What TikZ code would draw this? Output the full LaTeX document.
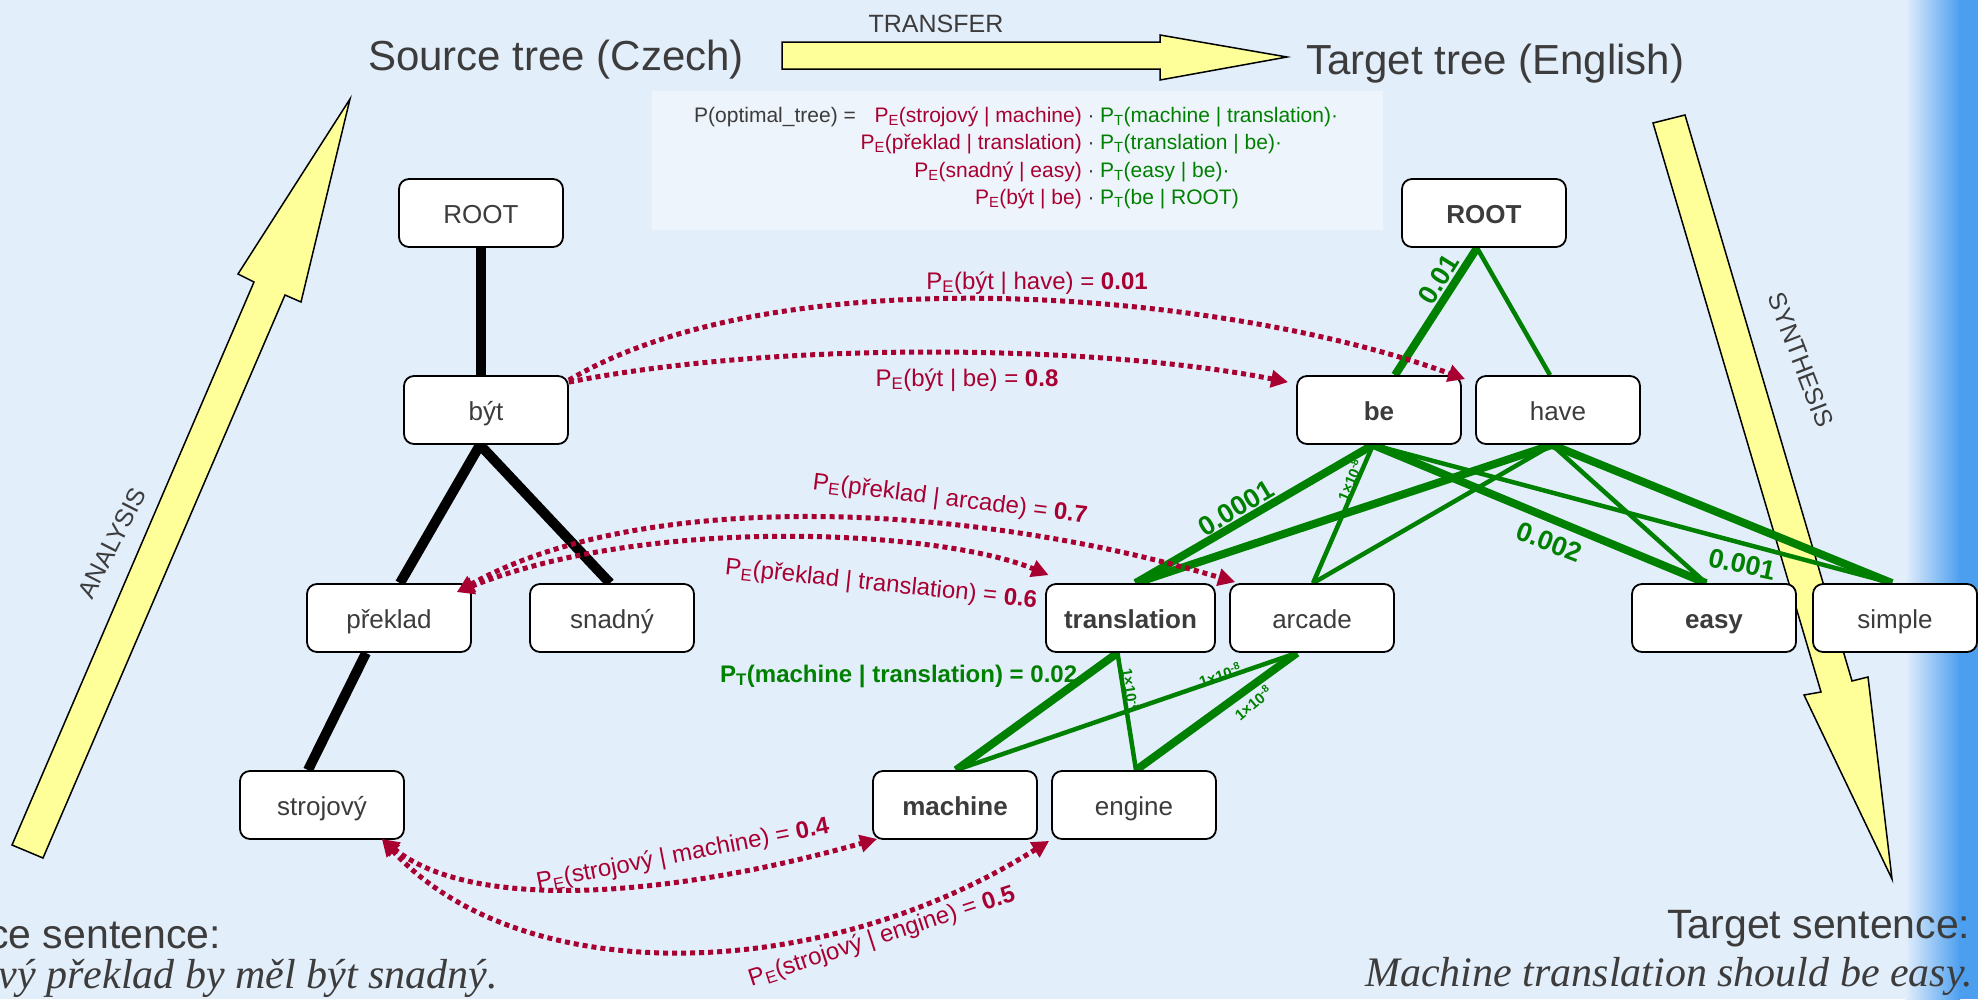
\documentclass[tikz,border=0pt]{standalone}
\usepackage{fontspec}
\setmainfont{Liberation Sans}
\newfontfamily\serifit{Liberation Serif}
\usetikzlibrary{arrows.meta,calc}
\pgfdeclarelayer{back}
\pgfsetlayers{back,main}
\definecolor{bg}{HTML}{E3EEFB}
\definecolor{edgeblue}{HTML}{4C9FEF}
\definecolor{arrowyellow}{HTML}{FFFF99}
\definecolor{pred}{HTML}{A80030}
\definecolor{pgreen}{HTML}{008000}
\definecolor{txtgray}{HTML}{3C3C3C}
\definecolor{formulabg}{HTML}{EEF4FC}
\newcommand\fs[1]{\fontsize{#1}{#1}\selectfont}
\newcommand\PE{P\textsubscript{E}}
\newcommand\PT{P\textsubscript{T}}
\begin{document}
\begin{tikzpicture}[x=1pt,y=-1pt,
  >={Triangle[length=17pt,width=17pt]},
  wordbox/.style={draw=black, line width=1.8pt, fill=white, rounded corners=10pt,
    minimum width=164pt, minimum height=68pt, inner sep=0pt, text=txtgray, font=\fs{26},
    text height=26pt, text depth=6pt},
  srcedge/.style={line width=10pt, black},
  gthick/.style={line width=8pt, pgreen},
  gthin/.style={line width=4.5pt, pgreen},
  probarrow/.style={pred, line width=5pt, dash pattern=on 5pt off 4pt},
  redlab/.style={text=pred, font=\fs{24}, inner sep=0pt},
  greenlab/.style={text=pgreen, font=\fs{27}\bfseries, inner sep=0pt},
  smallgreen/.style={text=pgreen, font=\fs{15}\bfseries, inner sep=0pt},
  bigarrow/.style={fill=arrowyellow, draw=black, line width=1.5pt, line join=miter},
  titletext/.style={text=txtgray, font=\fs{42}, inner sep=0pt},
  formtext/.style={font=\fs{21}, inner sep=0pt},
  arrowword/.style={text=txtgray, font=\fs{25}, inner sep=0pt}
]
\useasboundingbox (0,0) rectangle (1978,999);
\clip (0,0) rectangle (1978,999);

% ---------- nodes ----------
\node[wordbox] (sroot) at (481,213) {ROOT};
\node[wordbox] (byt) at (486,410) {být};
\node[wordbox] (preklad) at (389,618) {překlad};
\node[wordbox] (snadny) at (612,618) {snadný};
\node[wordbox] (strojovy) at (322,805) {strojový};

\node[wordbox] (troot) at (1484,213) {\bfseries ROOT};
\node[wordbox] (be) at (1379,410) {\bfseries be};
\node[wordbox] (have) at (1558,410) {have};
\node[wordbox, minimum width=169pt] (translation) at (1130.5,618) {\bfseries translation};
\node[wordbox] (arcade) at (1312,618) {arcade};
\node[wordbox] (easy) at (1714,618) {\bfseries easy};
\node[wordbox] (simple) at (1895,618) {simple};
\node[wordbox] (machine) at (955,805) {\bfseries machine};
\node[wordbox] (engine) at (1134,805) {engine};

% ---------- background layer ----------
\begin{pgfonlayer}{back}
  \fill[bg] (0,0) rectangle (1978,999);
  \shade[left color=bg, right color=edgeblue] (1905,0) rectangle (1960,999);
  \fill[edgeblue] (1959,0) rectangle (1978,999);
  \fill[formulabg] (652,91) rectangle (1383,230);
  % yellow arrows
  \draw[bigarrow] (12,845) -- (254,282) -- (238,274) -- (350,99) -- (301,302) -- (285,295) -- (43,858) -- cycle;
  \draw[bigarrow] (1653,123) -- (1685,115) -- (1852,681) -- (1868,677) -- (1892,879) -- (1804,695) -- (1821,692) -- cycle;
  \draw[bigarrow] (782,42) -- (1160,42) -- (1160,35) -- (1287,57) -- (1160,80) -- (1160,69) -- (782,69) -- cycle;
  % source tree edges
  \draw[srcedge] (sroot.south) -- (sroot.south |- byt.north);
  \draw[srcedge] ($(byt.south)+(-6,0)$) -- ($(preklad.north)+(11,0)$);
  \draw[srcedge] ($(byt.south)+(-6,0)$) -- ($(snadny.north)+(-2,0)$);
  \draw[srcedge] ($(preklad.south)+(-23,0)$) -- ($(strojovy.north)+(-14,0)$);
  % target tree edges
  \coordinate (rootbot) at ($(troot.south)+(-7,0)$);
  \coordinate (bebot) at ($(be.south)+(-6,0)$);
  \coordinate (havebot) at ($(have.south)+(-6,0)$);
  \coordinate (trtop) at ($(translation.north)+(5,0)$);
  \coordinate (artop) at ($(arcade.north)+(1,0)$);
  \coordinate (eatop) at ($(easy.north)+(-8,0)$);
  \coordinate (sitop) at ($(simple.north)+(-3,0)$);
  \coordinate (trbot) at ($(translation.south)+(-13,0)$);
  \coordinate (arbot) at ($(arcade.south)+(-15,0)$);
  \coordinate (matop) at ($(machine.north)+(1,0)$);
  \coordinate (entop) at ($(engine.north)+(2,0)$);
  \draw[gthick] (rootbot) -- ($(be.north)+(16,0)$);
  \draw[gthin] (rootbot) -- ($(have.north)+(-8,0)$);
  \draw[gthick] (bebot) -- (trtop);
  \draw[gthin] (bebot) -- (artop);
  \draw[gthick] (bebot) -- (eatop);
  \draw[gthin] (bebot) -- (sitop);
  \draw[gthick] (havebot) -- (trtop);
  \draw[gthin] (havebot) -- (artop);
  \draw[gthin] (havebot) -- (eatop);
  \draw[gthick] (havebot) -- (sitop);
  \draw[gthick] (trbot) -- (matop);
  \draw[gthin] (trbot) -- (entop);
  \draw[gthin] (arbot) -- (matop);
  \draw[gthick] (arbot) -- (entop);
\end{pgfonlayer}

% ---------- red probability arrows ----------
\draw[probarrow,->] ($(byt.north east)+(0,5)$) .. controls (780,255) and (1220,290) .. ($(have.north west)+(-10,4)$);
\draw[probarrow,->] ($(byt.north east)+(0,7)$) .. controls (780,340) and (1100,345) .. ($(be.north west)+(-8,7)$);
\draw[probarrow,<->] ($(preklad.north east)+(-15,9)$) .. controls (650,515) and (940,530) .. ($(translation.north west)+(3.5,-8)$);
\draw[probarrow,<->] ($(preklad.north east)+(-15,9)$) .. controls (640,490) and (960,500) .. ($(arcade.north west)+(6,-1)$);
\draw[probarrow,<->] ($(strojovy.south east)+(-23,-1)$) .. controls (470,910) and (660,900) .. ($(machine.south west)+(5,-1)$);
\draw[probarrow,<->] ($(strojovy.south east)+(-23,-1)$) .. controls (520,990) and (820,985) .. ($(engine.south west)+(-2,1)$);

% ---------- labels ----------
\node[redlab, anchor=base] (lbhave) at (1037,289) {\PE(být | have) = \textbf{0.01}};
\node[redlab, anchor=base] (lbbe) at (967,386) {\PE(být | be) = \textbf{0.8}};
\node[redlab, rotate=-7] (lparc) at (950,500) {\PE(překlad | arcade) = \textbf{0.7}};
\node[redlab, rotate=-6] (lptr) at (881,585) {\PE(překlad | translation) = \textbf{0.6}};
\node[redlab, rotate=11] (lsma) at (683,855) {\PE(strojový | machine) = \textbf{0.4}};
\node[redlab, rotate=18] (lsen) at (882,937) {\PE(strojový | engine) = \textbf{0.5}};

\node[text=pgreen, font=\fs{24}\bfseries, inner sep=0pt, anchor=base west] (lptmt) at (720,682) {\PT(machine | translation) = 0.02};
\node[greenlab, rotate=58] (g001) at (1439,279) {0.01};
\node[greenlab, rotate=31] (g0001) at (1236,508) {0.0001};
\node[greenlab, rotate=-21] (g002) at (1549,542) {0.002};
\node[greenlab, rotate=-12] (g0010) at (1742,564) {0.001};
\node[smallgreen, rotate=67] (s1) at (1350,480) {1×10\textsuperscript{-8}};
\node[smallgreen, rotate=-81] (s2) at (1131,690) {1×10\textsuperscript{-8}};
\node[smallgreen, rotate=19] (s3) at (1220,675) {1×10\textsuperscript{-8}};
\node[smallgreen, rotate=40] (s4) at (1253,703) {1×10\textsuperscript{-8}};

% ---------- titles ----------
\node[titletext, anchor=base west] (srctitle) at (368,70) {Source tree (Czech)};
\node[titletext, anchor=base west] (tgttitle) at (1306,74) {Target tree (English)};
\node[arrowword, anchor=base] (transfer) at (936,32) {TRANSFER};
\node[arrowword, rotate=63] (analysis) at (112,543) {ANALYSIS};
\node[arrowword, rotate=-69] (synthesis) at (1801,360) {SYNTHESIS};

% ---------- formula ----------
\node[formtext, text=txtgray, anchor=base west] (f0) at (694,122) {P(optimal\_tree) =};
\node[formtext, text=pred, anchor=base east] (f1l) at (1082,122) {\PE(strojový | machine)};
\node[formtext, text=txtgray, anchor=base] (f1d) at (1091,122) {·};
\node[formtext, text=pgreen, anchor=base west] (f1r) at (1100,122) {\PT(machine | translation)·};
\node[formtext, text=pred, anchor=base east] (f2l) at (1082,149.5) {\PE(překlad | translation)};
\node[formtext, text=txtgray, anchor=base] (f2d) at (1091,149.5) {·};
\node[formtext, text=pgreen, anchor=base west] (f2r) at (1100,149.5) {\PT(translation | be)·};
\node[formtext, text=pred, anchor=base east] (f3l) at (1082,177) {\PE(snadný | easy)};
\node[formtext, text=txtgray, anchor=base] (f3d) at (1091,177) {·};
\node[formtext, text=pgreen, anchor=base west] (f3r) at (1100,177) {\PT(easy | be)·};
\node[formtext, text=pred, anchor=base east] (f4l) at (1082,204.5) {\PE(být | be)};
\node[formtext, text=txtgray, anchor=base] (f4d) at (1091,204.5) {·};
\node[formtext, text=pgreen, anchor=base west] (f4r) at (1100,204.5) {\PT(be | ROOT)};

% ---------- sentences ----------
\node[text=txtgray, font=\fs{41}, inner sep=0pt, anchor=base east] (srcsent) at (221,948) {Source sentence:};
\node[text=txtgray, font=\fs{42}\serifit\itshape, inner sep=0pt, anchor=base east] (srcit) at (498,988) {Strojový překlad by měl být snadný.};
\node[text=txtgray, font=\fs{41}, inner sep=0pt, anchor=base west] (tgtsent) at (1667,938) {Target sentence:};
\node[text=txtgray, font=\fs{42}\serifit\itshape, inner sep=0pt, anchor=base west] (tgtit) at (1365,986) {Machine translation should be easy.};
\end{tikzpicture}
\end{document}
